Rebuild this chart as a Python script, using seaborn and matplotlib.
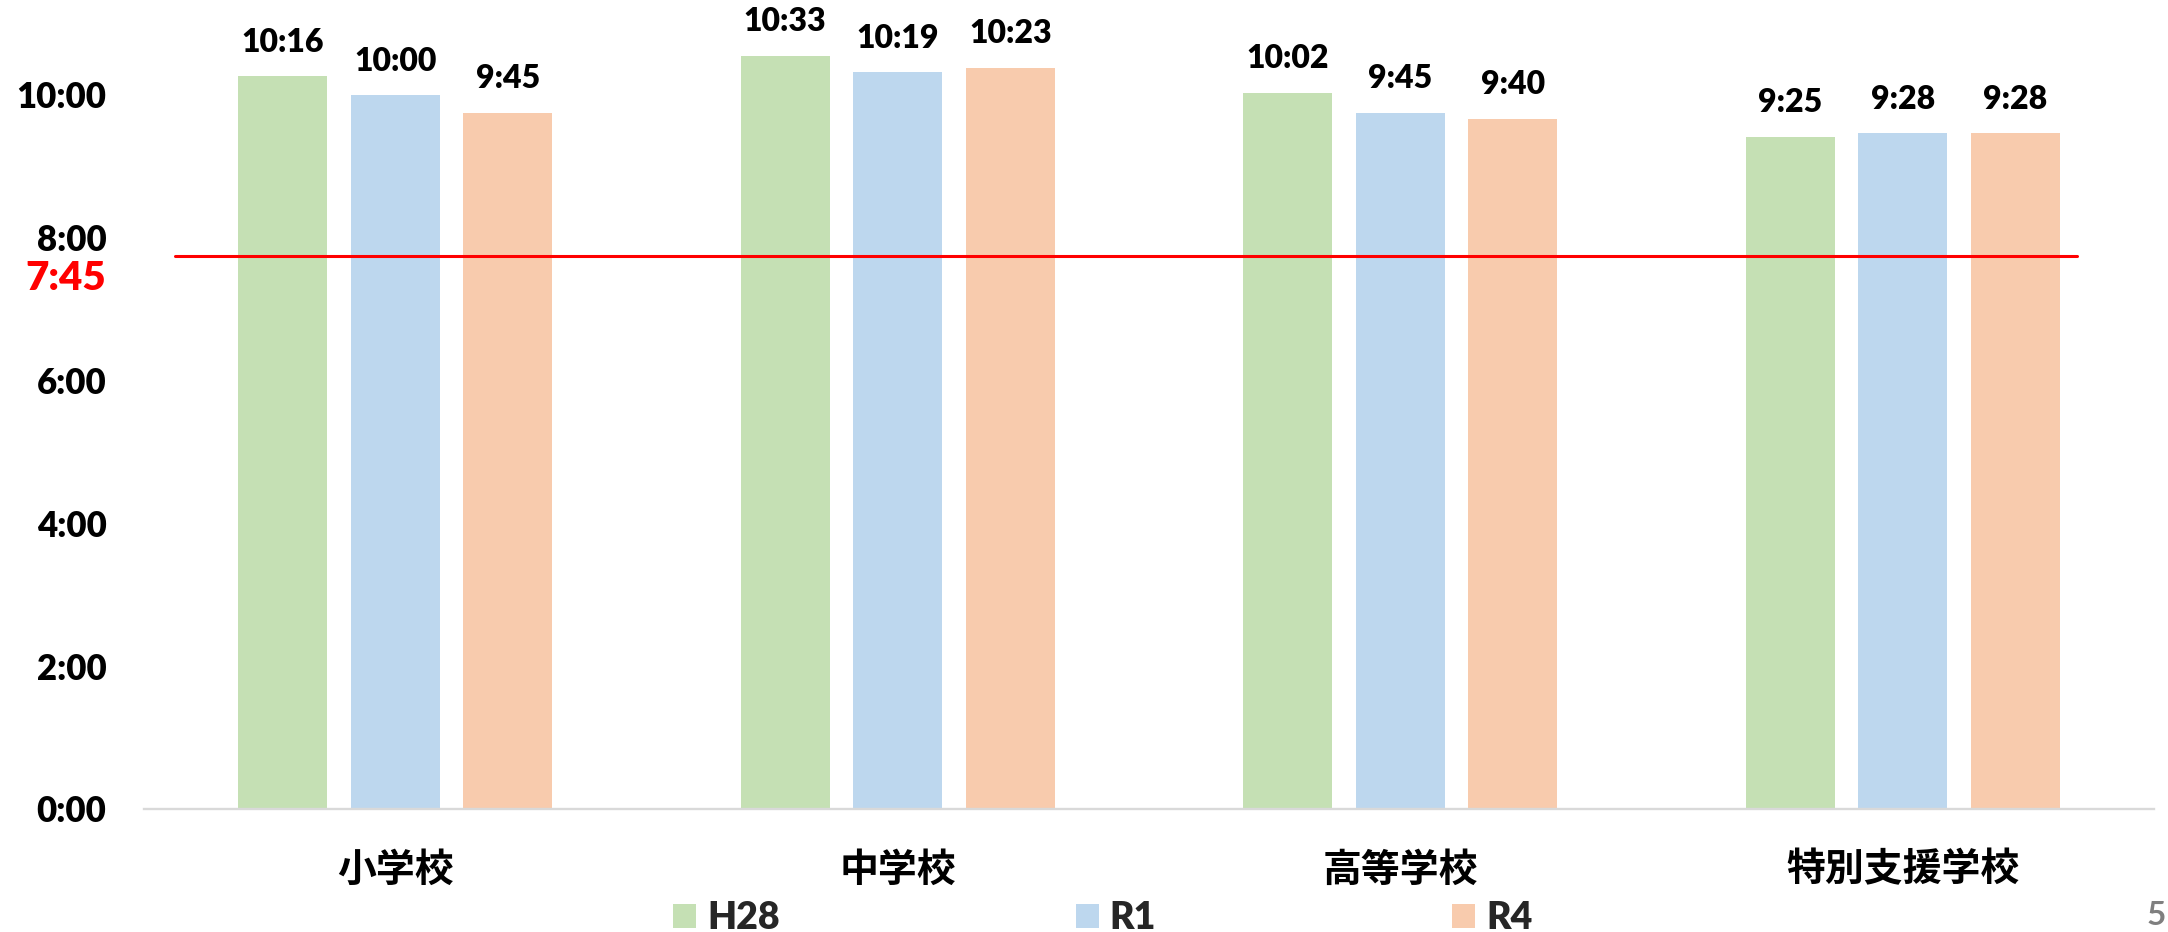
import matplotlib
matplotlib.use("Agg")
import matplotlib.pyplot as plt
import pandas as pd
import seaborn as sns

# Average time spent at school per day, by school type and survey year
categories = ["小学校", "中学校", "高等学校", "特別支援学校"]
years = ["H28", "R1", "R4"]
h28_times = ["10:16", "10:33", "10:02", "9:25"]
r1_times = ["10:00", "10:19", "9:45", "9:28"]
r4_times = ["9:45", "10:23", "9:40", "9:28"]
reference_time = "7:45"
y_ticks = [0, 2, 4, 6, 8, 10]
y_tick_labels = ["0:00", "2:00", "4:00", "6:00", "8:00", "10:00"]
palette = ["#C5E0B4", "#BDD7EE", "#F8CBAD"]
page_number = "5"


def to_hours(text):
    h, m = text.split(":")
    return int(h) + int(m) / 60.0


rows = []
for year, times in zip(years, [h28_times, r1_times, r4_times]):
    for school, t in zip(categories, times):
        rows.append({"school": school, "year": year, "hours": to_hours(t), "label": t})
df = pd.DataFrame(rows)

sns.set_theme(style="white")
plt.rcParams["font.family"] = ["Lato", "Noto Sans CJK JP"]
WEIGHT = "heavy"

W, H = 2168, 932
fig = plt.figure(figsize=(W / 100, H / 100), dpi=100)
ax = fig.add_axes([144 / W, 123 / H, 2010 / W, 785.4 / H])

sns.barplot(
    data=df, x="school", y="hours", hue="year",
    order=categories, hue_order=years, palette=palette,
    width=0.672, gap=0.21, saturation=1, errorbar=None,
    edgecolor="none", linewidth=0, ax=ax,
)

ax.set_xlim(-0.5, 3.5)
ax.set_ylim(0, 11)
ax.set_xlabel("")
ax.set_ylabel("")

# value labels above each bar
for container, year in zip(ax.containers, years):
    labels = df[df["year"] == year].set_index("school").loc[categories, "label"].tolist()
    ax.bar_label(container, labels=labels, padding=14, fontsize=23, fontweight=WEIGHT,
                 color="black")

# reference line at the standard working time
ref = to_hours(reference_time)
ax.axhline(ref, xmin=0.0154, xmax=0.9617, color="#FF0000", lw=2.2, zorder=3)
ax.annotate(reference_time, xy=(0, ref), xycoords=("axes fraction", "data"),
            xytext=(-27, -3), textcoords="offset points", ha="right", va="top",
            color="#FF0000", fontsize=29, fontweight=WEIGHT, annotation_clip=False)

ax.set_yticks(y_ticks, labels=y_tick_labels, fontsize=25, fontweight=WEIGHT)
ax.set_xticks(range(len(categories)), labels=categories, fontsize=28,
              family="Noto Sans CJK JP", fontweight="bold")
ax.tick_params(axis="y", length=0, pad=27, colors="black")
ax.tick_params(axis="x", length=0, pad=30, colors="black")

for side in ["left", "right", "top"]:
    ax.spines[side].set_visible(False)
ax.spines["bottom"].set_color("#D9D9D9")
ax.spines["bottom"].set_linewidth(1.7)

handles, labels = ax.get_legend_handles_labels()
if ax.get_legend() is not None:
    ax.get_legend().remove()
fig.legend(handles, labels, loc="center", bbox_to_anchor=(1103 / W, 1 - 918 / H),
           ncol=3, frameon=False, prop={"weight": WEIGHT, "size": 27},
           handlelength=0.61, handleheight=0.61, handletextpad=0.29, columnspacing=7.9,
           borderpad=0.1)

fig.text(2166 / W, 2 / H, page_number, color="#7F7F7F", fontsize=24,
         fontweight="bold", ha="right", va="bottom")

fig.savefig("out.png", dpi=100)
